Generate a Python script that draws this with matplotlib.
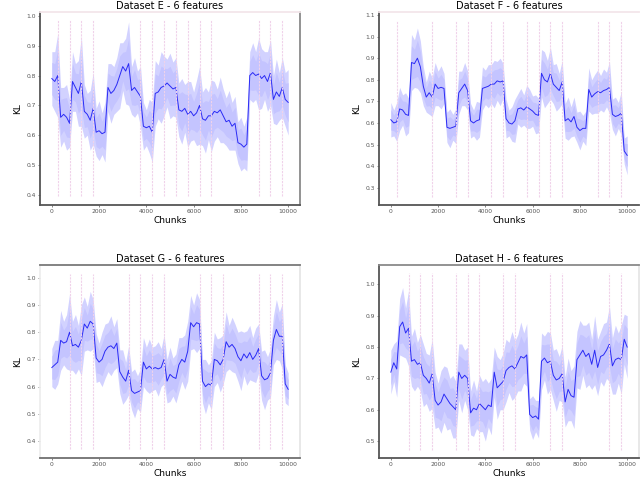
import numpy as np
import matplotlib
matplotlib.use("Agg")
import matplotlib.pyplot as plt

# chunk grid the curves were read on (one value every 125 chunks)
chunks = np.arange(0, 10001, 125)

titles = ["Dataset E - 6 features", "Dataset F - 6 features",
          "Dataset G - 6 features", "Dataset H - 6 features"]

# mean KL per chunk
E_mean = [0.79, 0.78, 0.80, 0.66, 0.67, 0.66, 0.64,
          0.78, 0.76, 0.74, 0.78,
          0.68, 0.67, 0.65, 0.69,
          0.61, 0.615, 0.605, 0.61,
          0.76, 0.74, 0.75, 0.77,
          0.80, 0.83, 0.815, 0.84,
          0.75, 0.76, 0.745, 0.73,
          0.63, 0.625, 0.63, 0.61,
          0.74, 0.745, 0.76, 0.765,
          0.775, 0.765, 0.755, 0.76,
          0.685, 0.68, 0.69, 0.67,
          0.68, 0.665, 0.675, 0.70,
          0.655, 0.65, 0.665, 0.665,
          0.68, 0.675, 0.685, 0.665,
          0.645, 0.65, 0.63, 0.64,
          0.575, 0.57, 0.56, 0.57,
          0.80, 0.81, 0.80, 0.805,
          0.79, 0.80, 0.78, 0.81,
          0.72, 0.745, 0.73, 0.76,
          0.72, 0.71]
F_mean = [0.615, 0.60, 0.605, 0.665, 0.66, 0.64, 0.635,
          0.88, 0.875, 0.90, 0.86,
          0.77, 0.72, 0.74, 0.72,
          0.78, 0.76, 0.765, 0.76,
          0.58, 0.575, 0.58, 0.585,
          0.74, 0.76, 0.78, 0.75,
          0.61, 0.60, 0.61, 0.615,
          0.76, 0.765, 0.77, 0.78,
          0.78, 0.795, 0.79, 0.795,
          0.62, 0.60, 0.595, 0.61,
          0.665, 0.67, 0.66, 0.675,
          0.665, 0.655, 0.64, 0.635,
          0.83, 0.80, 0.79, 0.83,
          0.78, 0.765, 0.75, 0.79,
          0.61, 0.62, 0.605, 0.63,
          0.58, 0.565, 0.575, 0.575,
          0.755, 0.72, 0.735, 0.745,
          0.74, 0.75, 0.755, 0.765,
          0.64, 0.63, 0.635, 0.645,
          0.47, 0.45]
G_mean = [0.67, 0.68, 0.69, 0.77, 0.76, 0.765, 0.80,
          0.75, 0.755, 0.745, 0.77,
          0.83, 0.815, 0.84, 0.83,
          0.705, 0.69, 0.70, 0.73,
          0.745, 0.75, 0.74, 0.76,
          0.655, 0.635, 0.62, 0.66,
          0.585, 0.575, 0.58, 0.585,
          0.69, 0.665, 0.675, 0.665,
          0.67, 0.665, 0.67, 0.70,
          0.62, 0.645, 0.635, 0.63,
          0.68, 0.70, 0.69, 0.73,
          0.835, 0.82, 0.835, 0.83,
          0.62, 0.60, 0.61, 0.605,
          0.70, 0.695, 0.68, 0.70,
          0.765, 0.745, 0.755, 0.74,
          0.71, 0.695, 0.72, 0.705,
          0.725, 0.70, 0.715, 0.74,
          0.64, 0.625, 0.63, 0.65,
          0.77, 0.81, 0.785, 0.785,
          0.61, 0.59]
H_mean = [0.72, 0.75, 0.73, 0.865, 0.88, 0.845, 0.86,
          0.755, 0.76, 0.745, 0.75,
          0.71, 0.70, 0.685, 0.715,
          0.63, 0.615, 0.625, 0.65,
          0.635, 0.62, 0.61, 0.60,
          0.72, 0.70, 0.71, 0.70,
          0.59, 0.605, 0.60, 0.62,
          0.61, 0.60, 0.615, 0.61,
          0.72, 0.67, 0.68, 0.69,
          0.725, 0.735, 0.74, 0.73,
          0.75, 0.77, 0.765, 0.775,
          0.585, 0.575, 0.58, 0.57,
          0.755, 0.765, 0.75, 0.755,
          0.71, 0.695, 0.70, 0.715,
          0.625, 0.665, 0.645, 0.64,
          0.76, 0.775, 0.79, 0.77,
          0.78, 0.745, 0.79, 0.735,
          0.77, 0.775, 0.79, 0.81,
          0.74, 0.76, 0.765, 0.76,
          0.825, 0.80]

# half width of the shaded band
E_spread = [0.09, 0.10, 0.14, 0.10, 0.09, 0.11, 0.08,
            0.10, 0.08, 0.11, 0.15,
            0.09, 0.07, 0.10, 0.12,
            0.08, 0.10, 0.07, 0.10,
            0.08, 0.10, 0.08, 0.09,
            0.11, 0.08, 0.11, 0.14,
            0.08, 0.10, 0.07, 0.10,
            0.08, 0.06, 0.09, 0.10,
            0.11, 0.09, 0.12, 0.10,
            0.08, 0.11, 0.09, 0.10,
            0.09, 0.11, 0.08, 0.11,
            0.10, 0.08, 0.11, 0.13,
            0.09, 0.11, 0.08, 0.12,
            0.10, 0.08, 0.11, 0.09,
            0.08, 0.10, 0.08, 0.09,
            0.07, 0.09, 0.07, 0.09,
            0.08, 0.10, 0.08, 0.12,
            0.10, 0.08, 0.10, 0.11,
            0.08, 0.11, 0.08, 0.10,
            0.09, 0.11]
F_spread = [0.08, 0.06, 0.09, 0.10, 0.07, 0.10, 0.08,
            0.13, 0.11, 0.14, 0.12,
            0.09, 0.07, 0.10, 0.09,
            0.10, 0.08, 0.10, 0.07,
            0.07, 0.09, 0.06, 0.08,
            0.10, 0.08, 0.10, 0.09,
            0.08, 0.06, 0.09, 0.08,
            0.10, 0.08, 0.10, 0.09,
            0.11, 0.09, 0.11, 0.08,
            0.09, 0.06, 0.08, 0.10,
            0.07, 0.09, 0.07, 0.10,
            0.09, 0.07, 0.09, 0.08,
            0.11, 0.13, 0.10, 0.12,
            0.09, 0.11, 0.08, 0.10,
            0.08, 0.10, 0.07, 0.09,
            0.07, 0.09, 0.06, 0.08,
            0.10, 0.08, 0.09, 0.10,
            0.08, 0.10, 0.08, 0.12,
            0.07, 0.09, 0.06, 0.10,
            0.06, 0.09]
G_spread = [0.07, 0.09, 0.08, 0.11, 0.08, 0.10, 0.14,
            0.09, 0.11, 0.08, 0.13,
            0.10, 0.08, 0.11, 0.09,
            0.09, 0.07, 0.10, 0.10,
            0.09, 0.11, 0.08, 0.09,
            0.08, 0.10, 0.07, 0.09,
            0.07, 0.09, 0.06, 0.08,
            0.09, 0.08, 0.10, 0.08,
            0.08, 0.10, 0.07, 0.09,
            0.08, 0.10, 0.07, 0.09,
            0.10, 0.08, 0.10, 0.11,
            0.10, 0.08, 0.11, 0.09,
            0.08, 0.10, 0.07, 0.09,
            0.10, 0.08, 0.10, 0.09,
            0.11, 0.08, 0.10, 0.09,
            0.09, 0.11, 0.08, 0.10,
            0.10, 0.08, 0.10, 0.09,
            0.09, 0.11, 0.08, 0.09,
            0.09, 0.11, 0.09, 0.12,
            0.07, 0.06]
H_spread = [0.07, 0.06, 0.09, 0.09, 0.11, 0.08, 0.12,
            0.08, 0.10, 0.07, 0.09,
            0.10, 0.08, 0.09, 0.11,
            0.09, 0.07, 0.10, 0.09,
            0.10, 0.08, 0.10, 0.09,
            0.09, 0.11, 0.08, 0.10,
            0.07, 0.09, 0.06, 0.09,
            0.08, 0.10, 0.07, 0.09,
            0.08, 0.10, 0.08, 0.09,
            0.10, 0.08, 0.11, 0.09,
            0.09, 0.11, 0.08, 0.10,
            0.05, 0.07, 0.05, 0.06,
            0.09, 0.07, 0.10, 0.09,
            0.08, 0.10, 0.07, 0.09,
            0.08, 0.10, 0.08, 0.10,
            0.09, 0.11, 0.08, 0.10,
            0.10, 0.08, 0.11, 0.09,
            0.08, 0.10, 0.09, 0.12,
            0.09, 0.11, 0.08, 0.11,
            0.08, 0.10]

# chunks where drift happens (vertical lines)
E_drifts = [250, 750, 1250, 1750, 3750, 4250, 4750, 5250, 5750, 6250, 6750, 8750, 9250, 9750]
F_drifts = [250, 1750, 2750, 3250, 4250, 4750, 5750, 6250, 6750, 7250, 8750, 9250, 9750]
G_drifts = [750, 1250, 1750, 3250, 3750, 4250, 4750, 6250, 6750, 7250, 8750, 9250, 9750]
H_drifts = [750, 1250, 1750, 2750, 3250, 3750, 4750, 5250, 6750, 7250, 9250, 9750]

# vertical extent of the drift lines
drift_span = [(0.395, 0.985), (0.255, 1.07), (0.37, 1.015), (0.47, 1.035)]

y_ticks = [[0.4, 0.5, 0.6, 0.7, 0.8, 0.9, 1.0],
           [0.3, 0.4, 0.5, 0.6, 0.7, 0.8, 0.9, 1.0, 1.1],
           [0.4, 0.5, 0.6, 0.7, 0.8, 0.9, 1.0],
           [0.5, 0.6, 0.7, 0.8, 0.9, 1.0]]
y_lims = [(0.366, 1.013), (0.22, 1.114), (0.3375, 1.047), (0.446, 1.062)]
x_ticks = [0, 2000, 4000, 6000, 8000, 10000]

means = [E_mean, F_mean, G_mean, H_mean]
spreads = [E_spread, F_spread, G_spread, H_spread]
drifts = [E_drifts, F_drifts, G_drifts, H_drifts]

W, H = 640, 498
fig = plt.figure(figsize=(W / 100, H / 100), dpi=100)

# axes boxes in pixels: left, top, right, bottom
boxes = [(40, 12, 300, 205), (379, 12, 639, 205),
         (40, 265, 300, 458), (379, 265, 639, 458)]

# spine colours per panel (left, bottom, right, top) - the panels differ a bit
spine_cols = [("#555555", "#555555", "#8a8a8a", "#f3e6ea"),
              ("#555555", "#555555", "#ffffff", "#f3e6ea"),
              ("#eeeeee", "#707070", "#e6e6e6", "#7a7a7a"),
              ("#555555", "#555555", "#e6e6e6", "#8a8a8a")]

for k in range(4):
    l, t, r, b = boxes[k]
    ax = fig.add_axes([l / W, 1 - b / H, (r - l) / W, (b - t) / H])
    m = np.array(means[k])
    s = np.array(spreads[k])
    ax.fill_between(chunks, m - s, m + s, color="#d2d2ff", lw=0)
    ax.fill_between(chunks, m - 0.6 * s, m + 0.6 * s, color="#c4c4ff", lw=0)
    ax.plot(chunks, m, color="#2a2af5", lw=0.7)
    lo, hi = drift_span[k]
    ax.vlines(drifts[k], lo, hi, colors="#f0d2ea", lw=0.8, linestyles=(0, (2, 1)))

    ax.set_xlim(-500, 10500)
    ax.set_ylim(*y_lims[k])
    ax.set_xticks(x_ticks)
    ax.set_yticks(y_ticks[k])
    ax.set_yticklabels([f"{v:.1f}" for v in y_ticks[k]])
    ax.tick_params(labelsize=4.3, length=1.5, width=0.5, colors="#555555", pad=1.5)
    ax.set_title(titles[k], fontsize=7, pad=2.5)
    ax.set_xlabel("Chunks", fontsize=6.5, labelpad=1.5)
    ax.set_ylabel("KL", fontsize=6.5, labelpad=3)

    for side, col in zip(["left", "bottom", "right", "top"], spine_cols[k]):
        ax.spines[side].set_color(col)
        ax.spines[side].set_linewidth(1.3)

fig.savefig("out.png", dpi=100)
